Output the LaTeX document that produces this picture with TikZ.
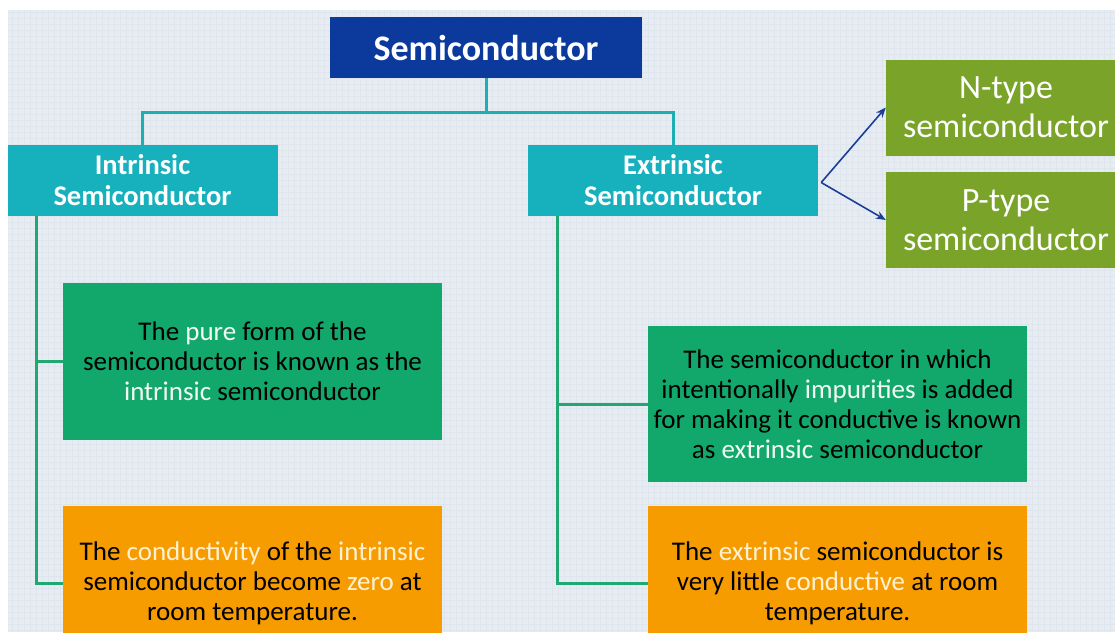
\documentclass[tikz,border=0pt]{standalone}
\usepackage{fontspec}
\setmainfont{Carlito}
\usetikzlibrary{arrows.meta}

\definecolor{bgblue}{HTML}{E6ECF1}
\definecolor{gridblue}{HTML}{DEE5EC}
\definecolor{titleblue}{HTML}{0B3A9C}
\definecolor{headteal}{HTML}{17B1BE}
\definecolor{lineteal}{HTML}{1DB0B3}
\definecolor{defgreen}{HTML}{12A86B}
\definecolor{linegreen}{HTML}{20A872}
\definecolor{condorange}{HTML}{F79C00}
\definecolor{typeolive}{HTML}{7AA32A}
\definecolor{arrowblue}{HTML}{1B3E9A}
\definecolor{hlgreen}{HTML}{F2FAF2}
\definecolor{hlorange}{HTML}{FFF2D2}

\tikzset{
  head/.style={fill=headteal,text=white,font=\bfseries\fontsize{28.5}{31}\selectfont,
    align=center,minimum width=270pt,minimum height=71pt,inner sep=0pt},
  typebox/.style={fill=typeolive,text=white,font=\fontsize{34}{39}\selectfont,
    align=center,minimum width=240pt,minimum height=96pt,inner sep=0pt},
  defbox/.style={fill=defgreen,text=black,font=\fontsize{27}{30}\selectfont,
    align=center,minimum width=379pt,inner sep=0pt},
  condbox/.style={fill=condorange,text=black,font=\fontsize{27}{30}\selectfont,
    align=center,minimum width=379pt,minimum height=154pt,inner sep=0pt},
  tree/.style={draw=lineteal,line width=3pt},
  branch/.style={draw=linegreen,line width=3pt},
  typearrow/.style={draw=arrowblue,line width=1.6pt,-{Stealth[length=10pt,width=8pt]}}
}
\newcommand{\hlg}[1]{\textcolor{hlgreen}{#1}}
\newcommand{\hlo}[1]{\textcolor{hlorange}{#1}}

\begin{document}
\begin{tikzpicture}[x=1pt,y=-1pt]

   % Background
   \useasboundingbox (0,0) rectangle (1115,632);
   \clip (0,0) rectangle (1115,632);
   \fill[white] (0,0) rectangle (1115,632);
   \fill[bgblue] (8,10) rectangle (1115,632);
   \draw[gridblue,line width=0.4pt,step=6pt] (8,10) grid (1115,632);

   % Top level
   \node[fill=titleblue,text=white,font=\bfseries\fontsize{36}{40}\selectfont,
     minimum width=312pt,minimum height=61pt,inner sep=0pt] (sc) at (486,47.5) {Semiconductor};

   \node[head] (intr) at (142.5,180.5) {Intrinsic\\Semiconductor};
   \node[head,minimum width=290pt] (extr) at (673,180.5) {Extrinsic\\Semiconductor};

   \draw[tree] (sc.south) -- ++(0,34) coordinate(scjoin);
   \draw[tree] (scjoin) -| (intr.north);
   \draw[tree] (scjoin) -| (extr.north);

   % Types
   \node[typebox] (ntype) at (1006,107.5) {N-type\\semiconductor};
   \node[typebox] (ptype) at (1006,220) {P-type\\semiconductor};

   \draw[typearrow] ([xshift=3pt,yshift=-2pt]extr.east) -- (ntype.west);
   \draw[typearrow] ([xshift=3pt,yshift=-2pt]extr.east) -- (ptype.west);

   % Intrinsic details
   \node[defbox,minimum height=157pt] (intrdef) at (252.5,361.5)
     {The \hlg{pure} form of the\\semiconductor is known as the\\\hlg{intrinsic} semiconductor};
   \node[condbox] (intrcond) at (252.5,583)
     {The \hlo{conductivity} of the \hlo{intrinsic}\\semiconductor become \hlo{zero} at\\room temperature.};

   \coordinate (intrstem) at ([xshift=29pt]intr.south west);
   \draw[branch] (intrstem) |- (intrdef.west);
   \draw[branch] (intrstem) |- (intrcond.west);

   % Extrinsic details
   \node[defbox,minimum height=156pt] (extrdef) at (837.5,404)
     {The semiconductor in which\\intentionally \hlg{impurities} is added\\for making it conductive is known\\as \hlg{extrinsic} semiconductor};
   \node[condbox] (extrcond) at (837.5,583)
     {The \hlo{extrinsic} semiconductor is\\very little \hlo{conductive} at room\\temperature.};

   \coordinate (extrstem) at ([xshift=30pt]extr.south west);
   \draw[branch] (extrstem) |- (extrdef.west);
   \draw[branch] (extrstem) |- (extrcond.west);

\end{tikzpicture}
\end{document}
